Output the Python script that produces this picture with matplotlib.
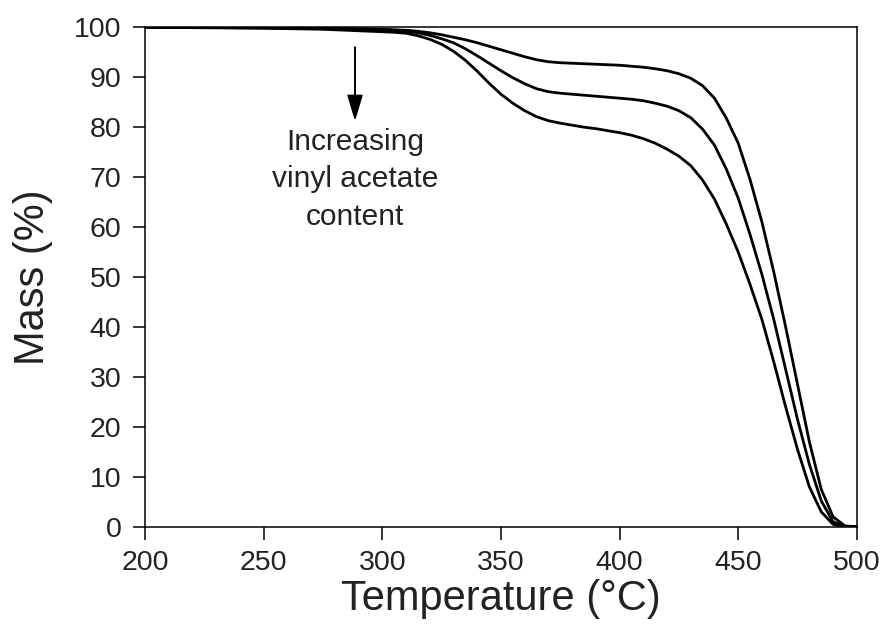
import matplotlib
matplotlib.use('Agg')
import matplotlib.pyplot as plt

plt.rcParams['font.family'] = ['Liberation Sans', 'DejaVu Sans']

# TGA curves, three vinyl acetate contents
temperature = [200, 250, 275, 290, 300, 305, 310, 315, 320, 325, 330, 335, 340,
               345, 350, 355, 360, 365, 370, 375, 380, 385, 390, 395, 400, 405,
               410, 415, 420, 425, 430, 435, 440, 445, 450, 455, 460, 465, 470,
               475, 480, 485, 490, 495, 500]
mass_low_va = [100, 99.9, 99.8, 99.7, 99.6, 99.5, 99.4, 99.2, 98.9, 98.5, 98.0, 97.5, 96.9,
               96.2, 95.5, 94.8, 94.1, 93.5, 93.1, 92.9, 92.8, 92.7, 92.6, 92.5, 92.4, 92.2,
               92.0, 91.7, 91.3, 90.7, 89.8, 88.3, 85.8, 81.8, 76.8, 69.5, 61.0, 51.0, 40.0,
               28.5, 17.0, 7.5, 2.0, 0.2, 0]
mass_mid_va = [100, 99.9, 99.7, 99.6, 99.5, 99.4, 99.2, 98.9, 98.4, 97.7, 96.9, 95.7, 94.3,
               92.8, 91.3, 89.9, 88.7, 87.7, 87.1, 86.8, 86.6, 86.4, 86.2, 86.0, 85.8, 85.6,
               85.3, 84.8, 84.2, 83.3, 81.9, 79.6, 76.4, 71.6, 65.8, 58.5, 50.5, 41.5, 31.5,
               21.5, 12.5, 5.2, 1.0, 0.1, 0]
mass_high_va = [100, 99.8, 99.6, 99.3, 99.1, 99.0, 98.8, 98.3, 97.6, 96.6, 95.2, 93.4, 91.2,
                88.8, 86.6, 84.8, 83.3, 82.1, 81.3, 80.8, 80.4, 80.0, 79.7, 79.3, 78.9, 78.4,
                77.7, 76.8, 75.6, 74.2, 72.3, 69.4, 65.6, 60.6, 55.0, 48.5, 41.5, 33.0, 24.0,
                15.5, 8.0, 3.0, 0.5, 0, 0]

fig = plt.figure(figsize=(8.87, 6.34), dpi=100)
ax = fig.add_axes([0.1635, 0.169, 0.8025, 0.788])

for m in (mass_low_va, mass_mid_va, mass_high_va):
    ax.plot(temperature, m, color='black', linewidth=2.0, solid_joinstyle='round')

ax.set_xlim(200, 500)
ax.set_ylim(0, 100)
ax.set_xticks(range(200, 501, 50))
ax.set_yticks(range(0, 101, 10))
ax.tick_params(direction='out', length=9, width=1.1, labelsize=20.5, pad=8,
               colors='black', labelcolor='#222222')
for s in ax.spines.values():
    s.set_linewidth(1.1)

ax.set_xlabel('Temperature (°C)', fontsize=30, labelpad=2, color='#222222')
ax.set_ylabel('Mass (%)', fontsize=30, labelpad=15, color='#222222')

# arrow + note
ax.annotate('', xy=(288.5, 81.2), xytext=(288.5, 96.0),
            arrowprops=dict(arrowstyle='-|>,head_length=0.8,head_width=0.24',
                            color='black', lw=1.4, mutation_scale=20,
                            shrinkA=0, shrinkB=0))
ax.text(288.5, 79.8, 'Increasing\nvinyl acetate\ncontent', ha='center', va='top',
        fontsize=21.5, linespacing=1.42, color='#222222')

fig.savefig('out.png', dpi=100)
